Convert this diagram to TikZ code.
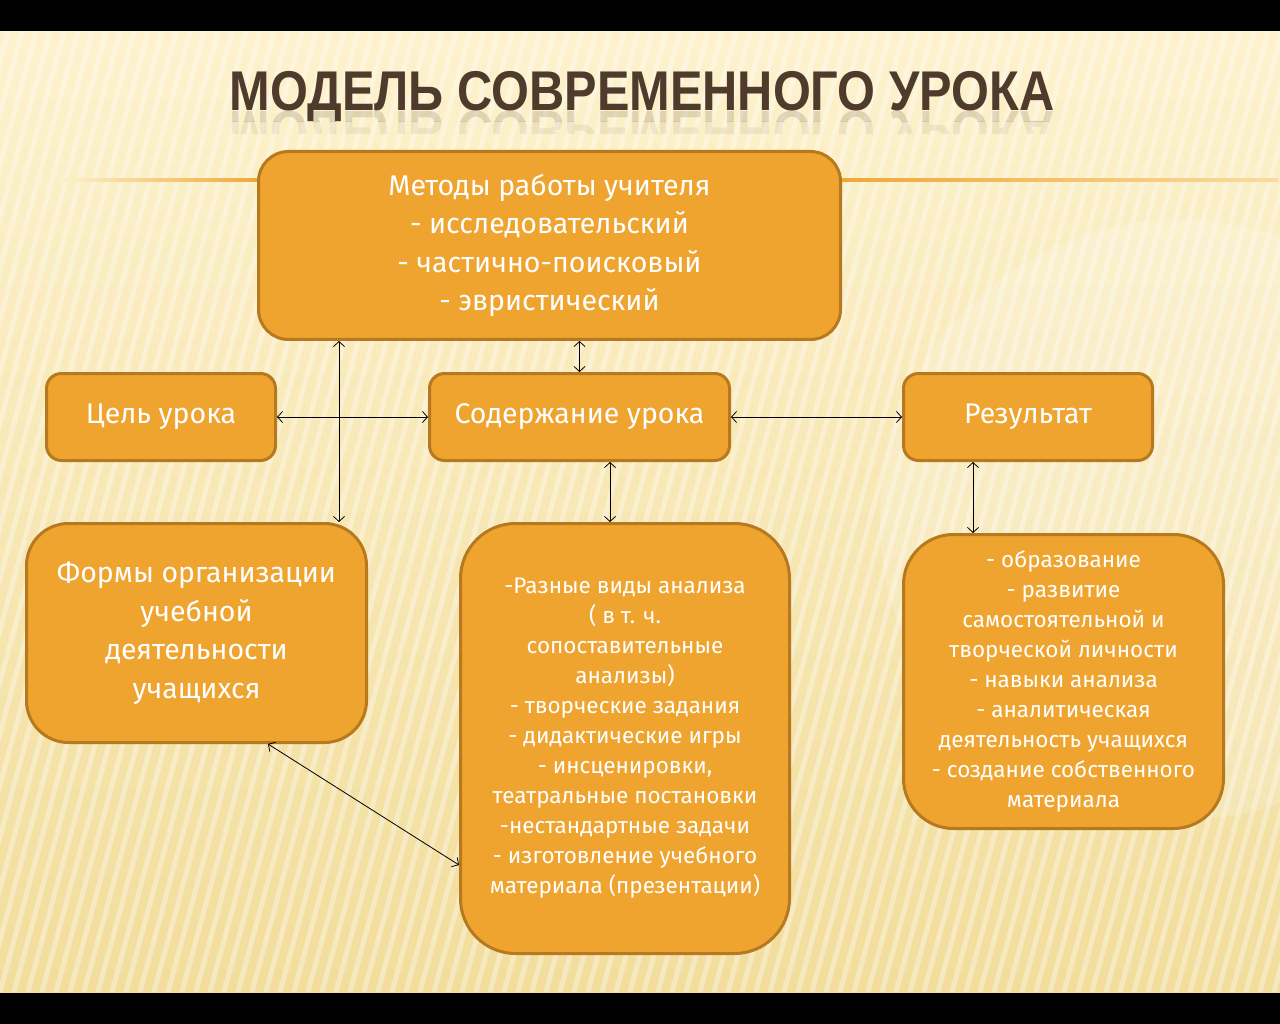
\documentclass[tikz,border=0pt]{standalone}
\usepackage{fontspec}
\setmainfont{Fira Sans}
\newfontfamily\titlefont{Liberation Sans}
\usetikzlibrary{arrows.meta,fadings}
\definecolor{boxfill}{HTML}{EFA430}
\definecolor{boxline}{HTML}{B7791F}
\definecolor{bgtop}{HTML}{FDF2CD}
\definecolor{bgbot}{HTML}{F2DD9C}
\definecolor{titlec}{HTML}{4E3B2C}
\definecolor{accent}{HTML}{F0A73A}
\begin{document}
\begin{tikzpicture}[x=1pt,y=-1pt,
  box/.style={draw=boxline, line width=3pt, fill=boxfill, text=white, align=center, inner sep=0pt},
  big/.style={font=\fontsize{28.5}{38.5}\selectfont},
  small/.style={font=\fontsize{22.5}{30}\selectfont},
  titletext/.style={text=titlec, font=\titlefont\bfseries\fontsize{56}{56}\selectfont, xscale=0.87, anchor=base},
  link/.style={{Straight Barb[length=5pt,width=11pt]}-{Straight Barb[length=5pt,width=11pt]}, line width=0.8pt, black}]
% background
\fill[black] (0,0) rectangle (1280,1024);
\shade[top color=bgtop, bottom color=bgbot] (0,32) rectangle (1280,992);
\begin{scope}
  \clip (0,32) rectangle (1280,992);
  \foreach \i in {-20,...,110} {
    \draw[white, opacity=0.35, line width=5pt] (\i*14,992) -- (\i*14+260,32);
  }
  \fill[white, opacity=0.18] (1180,520) circle (300);
\end{scope}
% title
\node[titletext] (title) at (642,111) {МОДЕЛЬ СОВРЕМЕННОГО УРОКА};
\begin{scope}
  \clip (200,112) rectangle (1100,122);
  \node[titletext, opacity=0.16, yscale=-1] (refl) at (642,112) {МОДЕЛЬ СОВРЕМЕННОГО УРОКА};
\end{scope}
\begin{scope}
  \clip (200,122) rectangle (1100,134);
  \node[titletext, opacity=0.08, yscale=-1] (refl2) at (642,112) {МОДЕЛЬ СОВРЕМЕННОГО УРОКА};
\end{scope}
% accent line
\shade[left color=bgtop, right color=accent] (60,179) rectangle (258,181.5);
\shade[left color=accent, right color=accent!30!bgtop] (840,179) rectangle (1278,181.5);
% boxes
\node[box, big, rounded corners=30pt, minimum width=582pt, minimum height=188pt] (top) at (549.5,245.5)
  {Методы работы учителя\\- исследовательский\\- частично-поисковый\\- эвристический};
\node[box, big, rounded corners=15pt, minimum width=229pt, minimum height=87pt] (goal) at (161,417) {Цель урока};
\node[box, big, rounded corners=15pt, minimum width=300pt, minimum height=87pt] (content) at (579.5,417) {Содержание урока};
\node[box, big, rounded corners=15pt, minimum width=249pt, minimum height=87pt] (result) at (1028,417) {Результат};
\node[box, big, rounded corners=42pt, minimum width=340pt, minimum height=219pt] (forms) at (196.5,633)
  {Формы организации\\учебной\\деятельности\\учащихся};
\node[box, small, rounded corners=55pt, minimum width=329pt, minimum height=430pt] (mid) at (625,738.5)
  {-Разные виды анализа\\( в т. ч.\\сопоставительные\\анализы)\\- творческие задания\\- дидактические игры\\- инсценировки,\\театральные постановки\\-нестандартные задачи\\- изготовление учебного\\материала (презентации)};
\node[box, small, rounded corners=50pt, minimum width=320pt, minimum height=294pt] (res2) at (1063.5,681.5)
  {- образование\\- развитие\\самостоятельной и\\творческой личности\\- навыки анализа\\- аналитическая\\деятельность учащихся\\- создание собственного\\материала};
% connectors
\coordinate (vx) at (339,0);
\coordinate (cx) at (610,0);
\coordinate (rx) at (973,0);
\coordinate (d1) at (268,0);
\coordinate (d2) at (0,865);
\draw[link] (top.south -| vx) -- (forms.north -| vx);
\draw[link] (goal.east) -- (content.west);
\draw[link] (top.south -| content.north) -- (content.north);
\draw[link] (content.east) -- (result.west);
\draw[link] (content.south -| cx) -- (mid.north -| cx);
\draw[link] (result.south -| rx) -- (res2.north -| rx);
\draw[link] (forms.south -| d1) -- (mid.west |- d2);
\end{tikzpicture}
\end{document}
